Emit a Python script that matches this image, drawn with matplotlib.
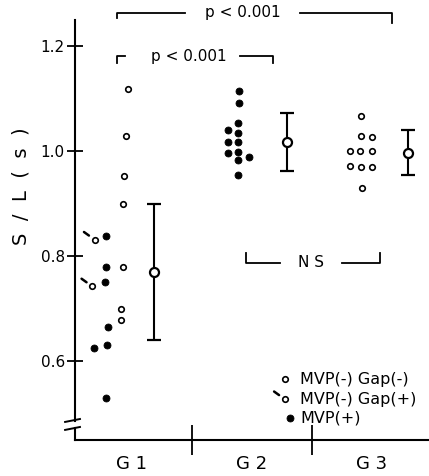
import matplotlib
matplotlib.use("Agg")
import matplotlib.pyplot as plt

# S/L values
g1_gapneg = [1.118, 1.028, 0.951, 0.899, 0.778, 0.699, 0.678]   # MVP(-) Gap(-)
g1_gappos = [0.830, 0.741]                                      # MVP(-) Gap(+)
g1_mvp = [0.837, 0.778, 0.750, 0.664, 0.630, 0.623, 0.528]      # MVP(+)
g2_mvp = [1.114, 1.090, 1.052, 1.040, 1.033, 1.017, 1.017, 0.996,
          0.998, 0.988, 0.981, 0.953]
g3_gapneg = [1.066, 1.028, 1.026, 0.999, 0.999, 1.000, 0.971, 0.969,
             0.969, 0.929]

group_names = ["G 1", "G 2", "G 3"]
group_mean = [0.769, 1.016, 0.995]
group_lo = [0.639, 0.961, 0.953]
group_hi = [0.898, 1.072, 1.039]

legend_labels = ["MVP(-) Gap(-)", "MVP(-) Gap(+)", "MVP(+)"]
p_text = "p < 0.001"
ns_text = "N S"

# horizontal scatter of the dots around each group (layout only)
g1_gapneg_dx = [-0.03, -0.05, -0.07, -0.075, -0.078, -0.09, -0.09]
g1_gappos_dx = [-0.31, -0.33]
g1_mvp_dx = [-0.217, -0.217, -0.225, -0.2, -0.21, -0.32, -0.217]
g2_dx = [-0.106, -0.106, -0.114, -0.203, -0.114, -0.203, -0.114, -0.203,
         -0.114, -0.022, -0.114, -0.114]
g3_dx = [-0.092, -0.092, 0.0, -0.181, -0.097, 0.0, -0.181, -0.092, 0.0, -0.083]
mean_dx = [0.183, 0.29, 0.30]

pos = [1, 2, 3]

fig = plt.figure(figsize=(4.29, 4.76), dpi=100)
ax = fig.add_axes([75 / 429, 36 / 476, 354 / 429, 420 / 476])
ax.set_xlim(0.525, 3.475)
ax.set_ylim(0.4486, 1.2486)

open_kw = dict(marker="o", ls="none", mfc="white", mec="black", ms=4, mew=1.2,
               clip_on=False, zorder=3)
fill_kw = dict(marker="o", ls="none", mfc="black", mec="black", ms=5, mew=0.6,
               clip_on=False, zorder=3)

ax.plot([pos[0] + d for d in g1_gapneg_dx], g1_gapneg, **open_kw)
ax.plot([pos[0] + d for d in g1_gappos_dx], g1_gappos, **open_kw)
ax.plot([pos[0] + d for d in g1_mvp_dx], g1_mvp, **fill_kw)
ax.plot([pos[1] + d for d in g2_dx], g2_mvp, **fill_kw)
ax.plot([pos[2] + d for d in g3_dx], g3_gapneg, **open_kw)

# little tick marking the Gap(+) points
def gap_tick(x, y, coords="data"):
    ax.annotate("", xy=(x, y), xycoords=coords, xytext=(-7.8, 5.6),
                textcoords="offset points",
                arrowprops=dict(arrowstyle="-", lw=1.8, color="black",
                                shrinkA=0, shrinkB=5.2))

for d, v in zip(g1_gappos_dx, g1_gappos):
    gap_tick(pos[0] + d, v)

# mean +/- SD
for i in range(3):
    m = group_mean[i]
    ax.errorbar(pos[i] + mean_dx[i], m,
                yerr=[[m - group_lo[i]], [group_hi[i] - m]],
                fmt="o", mfc="white", mec="black", ms=6.5, mew=1.6,
                ecolor="black", elinewidth=1.5, capsize=5, capthick=1.5,
                zorder=4)

# axes
for s in ["top", "right"]:
    ax.spines[s].set_visible(False)
ax.spines["left"].set_linewidth(1.5)
ax.spines["bottom"].set_linewidth(1.5)
ax.spines["left"].set_bounds(0.485, 1.2486)
ax.plot([0.525, 0.525], [0.4486, 0.4714], color="black", lw=1.5, clip_on=False)
ax.plot([-0.028, 0.014], [0.043, 0.050], color="black", lw=1.4,
        transform=ax.transAxes, clip_on=False)
ax.plot([-0.028, 0.014], [0.024, 0.031], color="black", lw=1.4,
        transform=ax.transAxes, clip_on=False)

ax.set_yticks([0.6, 0.8, 1.0, 1.2])
ax.set_yticklabels(["0.6", "0.8", "1.0", "1.2"])
ax.tick_params(axis="y", direction="inout", length=11.5, width=1.3, pad=1.5,
               labelsize=11)
ax.set_xticks(pos)
ax.set_xticklabels(group_names)
ax.tick_params(axis="x", which="major", length=0, pad=11, labelsize=13)
ax.set_xticks([1.5, 2.5], minor=True)
ax.tick_params(axis="x", which="minor", direction="inout", length=21, width=1.3)

fig.text(21 / 429, 1 - 186 / 476, "S  /  L  (  s  )", rotation=90,
         ha="center", va="center", fontsize=14)

# significance brackets
line_kw = dict(color="black", lw=1.3, clip_on=False)

def bracket(x0, x1, y, y0, y1, tx, seg0, seg1, label, size=11):
    ax.plot([x0, x0, seg0], [y0, y, y], **line_kw)
    ax.plot([seg1, x1, x1], [y, y, y1], **line_kw)
    ax.text(tx, y, label, ha="center", va="center", fontsize=size)

bracket(0.873, 3.164, 1.262, 1.252, 1.243, 1.925, 1.442, 2.40, p_text)
bracket(0.873, 2.178, 1.180, 1.167, 1.167, 1.475, 0.943, 1.90, p_text)
bracket(1.948, 3.07, 0.786, 0.805, 0.805, 2.49, 2.233, 2.748, ns_text)

# legend
leg_y = [0.1445, 0.0969, 0.0517]
ax.plot(0.593, leg_y[0], transform=ax.transAxes, **open_kw)
ax.plot(0.593, leg_y[1], transform=ax.transAxes, **open_kw)
gap_tick(0.593, leg_y[1], coords="axes fraction")
ax.plot(0.607, leg_y[2], transform=ax.transAxes, **fill_kw)
for yy, lab in zip(leg_y, legend_labels):
    ax.text(0.636, yy, lab, transform=ax.transAxes, ha="left", va="center",
            fontsize=11.5)

fig.savefig("out.png", dpi=100)
